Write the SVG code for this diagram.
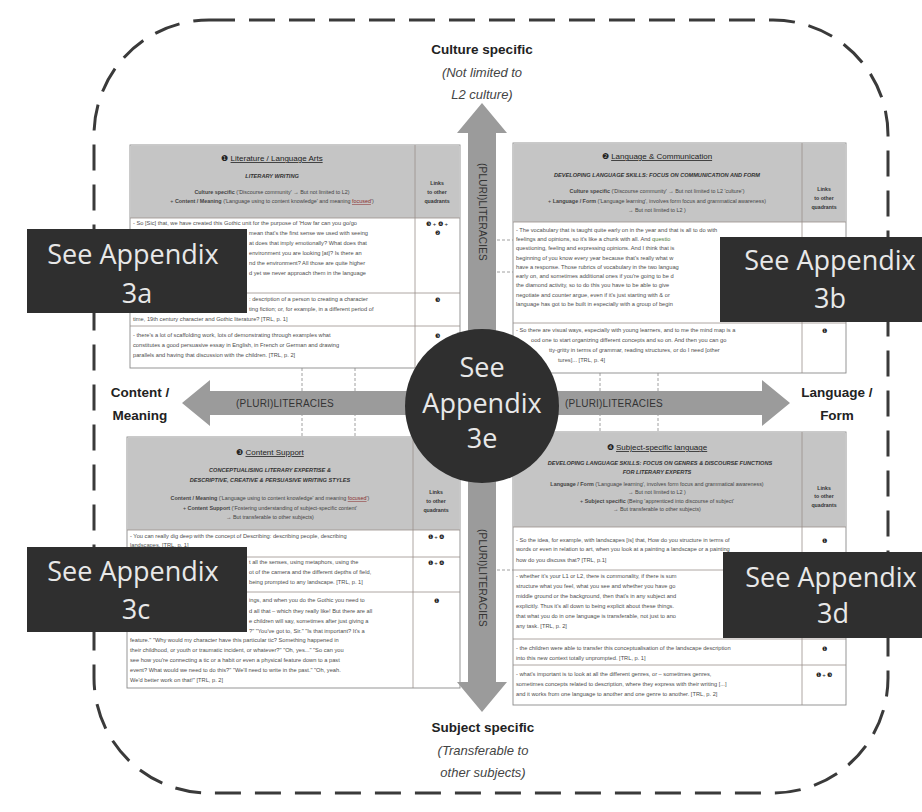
<svg xmlns="http://www.w3.org/2000/svg" width="922" height="812" viewBox="0 0 922 812">
<style>
text{font-family:"Liberation Sans",Arial,sans-serif}
.hdr{fill:#c5c5c5}
.tb{fill:#fff;stroke:#8a8a8a;stroke-width:0.9}
.rl{stroke:#9a8f8a;stroke-width:0.8}
.ttl{font-size:8px;fill:#222;text-anchor:middle}
.sub{font-size:5.6px;font-weight:bold;font-style:italic;fill:#333;text-anchor:middle}
.hl{font-size:5.4px;fill:#444;text-anchor:middle}
.lk{font-size:5.2px;font-weight:bold;fill:#333;text-anchor:middle}
.bd{font-size:5.7px;fill:#4d4d4d}
.bu{font-size:6px;fill:#222;text-anchor:middle}
.u{text-decoration:underline}
.arrow{fill:#9b9b9b}
.pl{font-size:10px;fill:#333;text-anchor:middle;letter-spacing:0.2px}
.dl{stroke:#888;stroke-width:0.8;stroke-dasharray:3 2;fill:none}
.box{fill:#2f2f2f}
.bt{font-family:"Open Sans","Liberation Sans",sans-serif;font-size:27px;fill:#e8e8e8;text-anchor:middle}
.ax{font-size:13.5px;font-weight:bold;fill:#222;text-anchor:middle}
.axi{font-size:13px;font-style:italic;fill:#444;text-anchor:middle}
</style>

<path id="border" d="M209,20 H773 A115,115 0 0 1 888,135 V678 A115,115 0 0 1 773,793 H209 A115,115 0 0 1 94,678 V135 A115,115 0 0 1 209,20 Z" fill="none" stroke="#3a3a3a" stroke-width="3" stroke-dasharray="26 14"/>

<g id="table1">
<rect class="tb" x="130" y="145" width="330" height="223"/>
<rect class="hdr" x="130.5" y="145.5" width="329" height="72.5"/>
<line class="rl" x1="130" y1="218" x2="460" y2="218"/>
<line class="rl" x1="130" y1="293" x2="460" y2="293"/>
<line class="rl" x1="130" y1="326" x2="460" y2="326"/>
<line class="rl" x1="415" y1="145" x2="415" y2="368"/>
<text class="ttl" x="272" y="161">❶ <tspan class="u">Literature / Language Arts</tspan></text>
<text class="sub" x="272" y="178">LITERARY WRITING</text>
<text class="hl" x="272" y="194"><tspan font-weight="bold">Culture specific</tspan> ('Discourse community' → But not limited to L2)</text>
<text class="hl" x="272" y="203">+ <tspan font-weight="bold">Content / Meaning</tspan> ('Language using to content knowledge' and meaning <tspan fill="#8a3030" class="u">focused</tspan>')</text>
<text class="lk" x="437" y="185">Links</text>
<text class="lk" x="437" y="194">to other</text>
<text class="lk" x="437" y="203">quadrants</text>
<text class="bd" x="133" y="225">- So [Sic] that, we have created this Gothic unit for the purpose of 'How far can you go/go</text>
<text class="bd" x="249" y="235">mean that's the first sense we used with seeing</text>
<text class="bd" x="249" y="245">at does that imply emotionally? What does that</text>
<text class="bd" x="249" y="255">environment you are looking [at]? Is there an</text>
<text class="bd" x="249" y="265">nd the environment? All those are quite higher</text>
<text class="bd" x="249" y="275">d yet we never approach them in the language</text>
<text class="bd" x="249" y="301">: description of a person to creating a character</text>
<text class="bd" x="249" y="311">ting fiction; or, for example, in a different period of</text>
<text class="bd" x="133" y="321">time, 19th century character and Gothic literature? [TRL, p. 1]</text>
<text class="bd" x="133" y="337">- there's a lot of scaffolding work, lots of demonstrating through examples what</text>
<text class="bd" x="133" y="347">constitutes a good persuasive essay in English, in French or German and drawing</text>
<text class="bd" x="133" y="357">parallels and having that discussion with the children. [TRL, p. 2]</text>
<text class="bu" x="437" y="226">❸ + ❹ +</text>
<text class="bu" x="437" y="235">❷</text>
<text class="bu" x="437" y="302">❸</text>
<text class="bu" x="437" y="338">❸</text>
</g>

<g id="table2">
<rect class="tb" x="513" y="143" width="333" height="230"/>
<rect class="hdr" x="513.5" y="143.5" width="332" height="78.5"/>
<line class="rl" x1="513" y1="222" x2="846" y2="222"/>
<line class="rl" x1="513" y1="323" x2="846" y2="323"/>
<line class="rl" x1="802" y1="143" x2="802" y2="373"/>
<text class="ttl" x="657" y="159">❷ <tspan class="u">Language &amp; Communication</tspan></text>
<text class="sub" x="657" y="177">DEVELOPING LANGUAGE SKILLS: FOCUS ON COMMUNICATION AND FORM</text>
<text class="hl" x="657" y="193"><tspan font-weight="bold">Culture specific</tspan> ('Discourse community' → But not limited to L2 'culture')</text>
<text class="hl" x="657" y="203">+ <tspan font-weight="bold">Language / Form</tspan> ('Language learning', involves form focus and grammatical awareness)</text>
<text class="hl" x="657" y="212">→ But not limited to L2 )</text>
<text class="lk" x="824" y="191">Links</text>
<text class="lk" x="824" y="200">to other</text>
<text class="lk" x="824" y="209">quadrants</text>
<text class="bd" x="516" y="232">- The vocabulary that is taught quite early on in the year and that is all to do with</text>
<text class="bd" x="516" y="241">feelings and opinions, so it's like a chunk with all. And <tspan fill="#4a7a3a">questio</tspan></text>
<text class="bd" x="516" y="250">questioning, feeling and expressing opinions. And I think that is</text>
<text class="bd" x="516" y="260">beginning of you know every year because that's really what w</text>
<text class="bd" x="516" y="269">have a response. Those rubrics of vocabulary in the two languag</text>
<text class="bd" x="516" y="278">early on, and sometimes additional ones if you're going to be d</text>
<text class="bd" x="516" y="287">the diamond activity, so to do this you have to be able to give</text>
<text class="bd" x="516" y="297">negotiate and counter argue, even if it's just starting with &amp; or</text>
<text class="bd" x="516" y="306">language has got to be built in especially with a group of begin</text>
<text class="bd" x="516" y="332">- So there are visual ways, especially with young learners, and to me the mind map is a</text>
<text class="bd" x="531" y="342">ood one to start organizing different concepts and so on. And then you can go</text>
<text class="bd" x="549" y="352">tty-gritty in terms of grammar, reading structures, or do I need [other</text>
<text class="bd" x="558" y="362">tures]... [TRL, p. 4]</text>
<text class="bu" x="824" y="333">❶</text>
</g>

<g id="table3">
<rect class="tb" x="127" y="437" width="333" height="251"/>
<rect class="hdr" x="127.5" y="437.5" width="332" height="92.5"/>
<line class="rl" x1="127" y1="530" x2="460" y2="530"/>
<line class="rl" x1="127" y1="557" x2="460" y2="557"/>
<line class="rl" x1="127" y1="592" x2="460" y2="592"/>
<line class="rl" x1="413" y1="437" x2="413" y2="688"/>
<text class="ttl" x="270" y="455">❸ <tspan class="u">Content Support</tspan></text>
<text class="sub" x="270" y="472">CONCEPTUALISING LITERARY EXPERTISE &amp;</text>
<text class="sub" x="270" y="482">DESCRIPTIVE, CREATIVE &amp; PERSUASIVE WRITING STYLES</text>
<text class="hl" x="270" y="500"><tspan font-weight="bold">Content / Meaning</tspan> ('Language using to content knowledge' and meaning <tspan fill="#8a3030" class="u">focused</tspan>')</text>
<text class="hl" x="270" y="510">+ <tspan font-weight="bold">Content Support</tspan> ('Fostering understanding of subject-specific content'</text>
<text class="hl" x="270" y="519">→ But transferable to other subjects)</text>
<text class="lk" x="436" y="494">Links</text>
<text class="lk" x="436" y="503">to other</text>
<text class="lk" x="436" y="512">quadrants</text>
<text class="bd" x="130" y="538">- You can really dig deep with the concept of Describing: describing people, describing</text>
<text class="bd" x="130" y="547">landscapes. [TRL, p. 1]</text>
<text class="bd" x="249" y="564">t all the senses, using metaphors, using the</text>
<text class="bd" x="249" y="574">ot of the camera and the different depths of field,</text>
<text class="bd" x="249" y="584">being prompted to any landscape. [TRL, p. 1]</text>
<text class="bd" x="249" y="602">ings, and when you do the Gothic you need to</text>
<text class="bd" x="249" y="613">d all that – which they really like! But there are all</text>
<text class="bd" x="249" y="623">e children will say, sometimes after just giving a</text>
<text class="bd" x="249" y="633">?" "You've got to, Sir."  "Is that important? It's a</text>
<text class="bd" x="130" y="642">feature." "Why would my character have this particular tic? Something happened in</text>
<text class="bd" x="130" y="652">their childhood, or youth or traumatic incident, or whatever?" "Oh, yes..." "So can you</text>
<text class="bd" x="130" y="662">see how you're connecting a tic or a habit or even a physical feature down to a past</text>
<text class="bd" x="130" y="672">event? What would we need to do this?" "We'll need to write in the past." "Oh, yeah.</text>
<text class="bd" x="130" y="682">We'd better work on that!" [TRL, p. 2]</text>
<text class="bu" x="436" y="539">❶ + ❹</text>
<text class="bu" x="436" y="565">❶ + ❹</text>
<text class="bu" x="436" y="603">❶</text>
</g>

<g id="table4">
<rect class="tb" x="513" y="432" width="333" height="273"/>
<rect class="hdr" x="513.5" y="432.5" width="332" height="94.5"/>
<line class="rl" x1="513" y1="527" x2="846" y2="527"/>
<line class="rl" x1="513" y1="570" x2="846" y2="570"/>
<line class="rl" x1="513" y1="639" x2="846" y2="639"/>
<line class="rl" x1="513" y1="665" x2="846" y2="665"/>
<line class="rl" x1="802" y1="432" x2="802" y2="705"/>
<text class="ttl" x="657" y="450">❹ <tspan class="u">Subject-specific language</tspan></text>
<text class="sub" x="660" y="465">DEVELOPING LANGUAGE SKILLS: FOCUS ON GENRES &amp; DISCOURSE FUNCTIONS</text>
<text class="sub" x="657" y="474">FOR LITERARY EXPERTS</text>
<text class="hl" x="657" y="486"><tspan font-weight="bold">Language / Form</tspan> ('Language learning', involves form focus and grammatical awareness)</text>
<text class="hl" x="657" y="494">→ But not limited to L2 )</text>
<text class="hl" x="657" y="503">+ <tspan font-weight="bold">Subject specific</tspan> (Being 'apprenticed into discourse of subject'</text>
<text class="hl" x="657" y="511">→ But transferable to other subjects)</text>
<text class="lk" x="824" y="490">Links</text>
<text class="lk" x="824" y="498">to other</text>
<text class="lk" x="824" y="507">quadrants</text>
<text class="bd" x="516" y="542">- So the idea, for example, with landscapes [is] that, How do you structure in terms of</text>
<text class="bd" x="516" y="551">words or even in relation to art, when you look at a painting a landscape or a painting</text>
<text class="bd" x="516" y="562">how do you discuss that? [TRL, p.1]</text>
<text class="bd" x="516" y="578">- whether it's your L1 or L2, there is commonality, if there is sum</text>
<text class="bd" x="516" y="588">structure what you feel, what you see and whether you have go</text>
<text class="bd" x="516" y="598">middle ground or the background, then that's in any subject and</text>
<text class="bd" x="516" y="608">explicitly. Thus it's all down to being explicit about these things.</text>
<text class="bd" x="516" y="618">that what you do in one language is transferable, not just to ano</text>
<text class="bd" x="516" y="628">any task. [TRL, p. 2]</text>
<text class="bd" x="516" y="650">- the children were able to transfer this conceptualisation of the landscape description</text>
<text class="bd" x="516" y="660">into this new context totally unprompted. [TRL, p. 1]</text>
<text class="bd" x="516" y="676">- what's important is to look at all the different genres, or – sometimes genres,</text>
<text class="bd" x="516" y="686">sometimes concepts related to description, where they express with their writing [...]</text>
<text class="bd" x="516" y="696">and it works from one language to another and one genre to another. [TRL, p. 2]</text>
<text class="bu" x="824" y="543">❶</text>
<text class="bu" x="824" y="651">❶</text>
<text class="bu" x="824" y="677">❶ + ❸</text>
</g>

<g id="connectors">
<line class="dl" x1="302" y1="368" x2="302" y2="437"/>
<line class="dl" x1="355" y1="368" x2="355" y2="437"/>
<line class="dl" x1="600" y1="373" x2="600" y2="432"/>
<line class="dl" x1="658" y1="373" x2="658" y2="432"/>
<line class="dl" x1="497" y1="240" x2="513" y2="240"/>
<line class="dl" x1="497" y1="272" x2="513" y2="272"/>
<line class="dl" x1="497" y1="570" x2="513" y2="570"/>
<polygon class="arrow" points="482,103 507,133 496,133 496,682 507,682 482,712 457,682 468,682 468,133 457,133"/>
<polygon class="arrow" points="182,403 210,380 210,391 762,391 762,380 790,403 762,426 762,415 210,415 210,426"/>
<text class="pl" x="285" y="407">(PLURI)LITERACIES</text>
<text class="pl" x="614" y="407">(PLURI)LITERACIES</text>
<text class="pl" transform="translate(478.5,212) rotate(90)">(PLURI)LITERACIES</text>
<text class="pl" transform="translate(478.5,578) rotate(90)">(PLURI)LITERACIES</text>
</g>

<g id="center">
<circle cx="482" cy="406" r="77" fill="#2f2f2f"/>
<text class="bt" x="482" y="377">See</text>
<text class="bt" x="482" y="413">Appendix</text>
<text class="bt" x="482" y="448">3e</text>
</g>

<g id="appendix3a">
<rect class="box" x="27" y="229" width="220" height="84"/>
<text class="bt" x="133" y="264">See Appendix</text>
<text class="bt" x="137" y="303">3a</text>
</g>
<g id="appendix3b">
<rect class="box" x="720" y="237" width="202" height="85"/>
<text class="bt" x="830" y="270">See Appendix</text>
<text class="bt" x="830" y="308">3b</text>
</g>
<g id="appendix3c">
<rect class="box" x="27" y="547" width="220" height="85"/>
<text class="bt" x="133" y="581">See Appendix</text>
<text class="bt" x="136" y="619">3c</text>
</g>
<g id="appendix3d">
<rect class="box" x="723" y="552" width="199" height="86"/>
<text class="bt" x="831" y="587">See Appendix</text>
<text class="bt" x="833" y="623">3d</text>
</g>

<g id="axis-top">
<text class="ax" x="482" y="54">Culture specific</text>
<text class="axi" x="482" y="77">(Not limited to</text>
<text class="axi" x="482" y="99">L2 culture)</text>
</g>
<g id="axis-left">
<text class="ax" x="140" y="397">Content /</text>
<text class="ax" x="140" y="420">Meaning</text>
</g>
<g id="axis-right">
<text class="ax" x="837" y="397">Language /</text>
<text class="ax" x="837" y="420">Form</text>
</g>
<g id="axis-bottom">
<text class="ax" x="483" y="732">Subject specific</text>
<text class="axi" x="483" y="755">(Transferable to</text>
<text class="axi" x="483" y="777">other subjects)</text>
</g>
</svg>
